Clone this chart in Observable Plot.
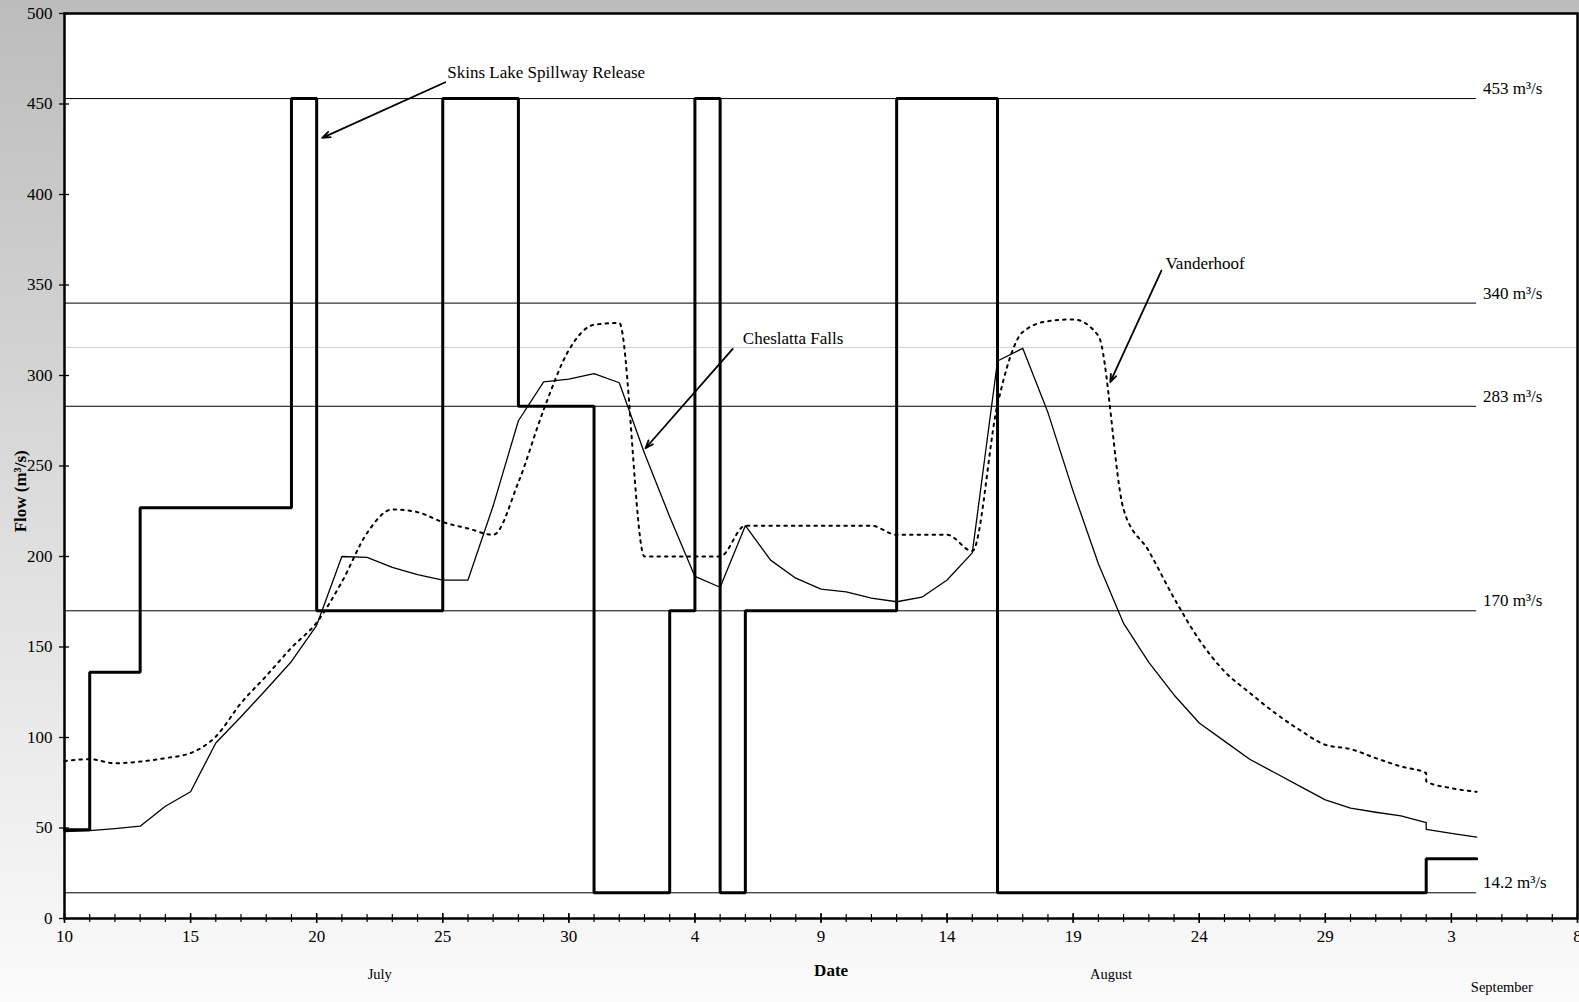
<!DOCTYPE html>
<html><head><meta charset="utf-8">
<script src="https://cdn.jsdelivr.net/npm/d3@7"></script>
<script src="https://cdn.jsdelivr.net/npm/@observablehq/plot@0.6"></script>
<style>html,body{margin:0;padding:0;overflow:hidden;background:#fff}</style>
</head><body><div id="chart"></div>
<script>
// Day index: 0 = July 10
const majorDays = [0,5,10,15,20,25,30,35,40,45,50,55,60];
const tickLabels = ["10","15","20","25","30","4","9","14","19","24","29","3","8"];
const yTicks = [0,50,100,150,200,250,300,350,400,450,500];

const monthNames = ["July","August","September"];
const monthDays = [12.5, 41.5, 57];
const monthRow = [0, 0, 1];

// Skins Lake Spillway Release (step changes)
const skinsDays = [0,1,3,9,10,15,18,21,24,25,26,27,33,37,54,56];
const skinsFlow = [49,136,227,453,170,453,283,14.2,170,453,14.2,170,453,14.2,33,33];

// Cheslatta Falls
const chesDays = [0,1,2,3,4,5,6,7,8,9,10,11,12,13,14,15,16,17,18,19,20,21,22,23,24,25,26,27,28,29,30,31,32,33,34,35,36,37,38,39,40,41,42,43,44,45,46,47,48,49,50,51,52,53,54,54,55,56];
const chesFlow = [48,48.5,49.7,51,62,70,97,111.5,126.5,142,162,200,199.5,194,190,187,187,228,275,296.5,298,301,296,257,222,189,183,217,198,188,182,180.5,177,175,177.5,187,202,308,315,279.5,236,196,163,141.5,123.5,108,98,88,80.5,73,65.5,61,58.7,56.7,53,49.3,47,45];

// Vanderhoof
const vandDays = chesDays;
const vandFlow = [87,88,85.8,86.7,88.6,91.4,100.5,119,134,149.6,163.5,186,213,226,224.5,219,215.5,212,241,281,314,328,329,200,200,200,200,217,217,217,217,217,217,212,212,212,203,284,324,330,331,322,226,203,177,154,136.5,124.7,113.6,104,96,93.6,88.6,84,80.3,75.7,72,70];

// Reference flows
const refFlows = [453,340,283,170,14.2];
const refLabels = ["453 m³/s","340 m³/s","283 m³/s","170 m³/s","14.2 m³/s"];
const refEndDay = 56;
const greyRefFlow = 315.5;

// Annotations
const annoLabels = ["Skins Lake Spillway Release","Cheslatta Falls","Vanderhoof"];
const annoTextDay = [15.18, 26.9, 43.66];
const annoTextFlow = [467.6, 320.5, 362];
const arrowFromDay = [15.1, 26.5, 43.5];
const arrowFromFlow = [462, 314.7, 358];
const arrowToDay = [10.22, 23.04, 41.47];
const arrowToFlow = [431.3, 259.8, 296.3];

// Axis titles
const xTitle = "Date", xTitleDay = 30.4;
const yTitle = "Flow (m³/s)", yTitleFlow = 236;

const allDays = d3.range(0, 61);
const skins = skinsDays.map((d,i)=>({day:d, flow:skinsFlow[i]}));
const ches = chesDays.map((d,i)=>({day:d, flow:chesFlow[i]}));
const vand = vandDays.map((d,i)=>({day:d, flow:vandFlow[i]}));
const refs = refFlows.map((f,i)=>({flow:f, label:refLabels[i]}));
const annos = annoLabels.map((l,i)=>({label:l, tx:annoTextDay[i], ty:annoTextFlow[i], x1:arrowFromDay[i], y1:arrowFromFlow[i], x2:arrowToDay[i], y2:arrowToFlow[i]}));
const months = monthNames.map((m,i)=>({name:m, day:monthDays[i], row:monthRow[i]}));

const W = 1579, H = 1002, mL = 64, mR = 2, mT = 13, mB = 84;
const pw = W - mL - mR, ph = H - mT - mB;
const font = "'Liberation Serif','Times New Roman',serif";

const chart = Plot.plot({
  width: W, height: H,
  marginLeft: mL, marginRight: mR, marginTop: mT, marginBottom: mB,
  x: {domain: [0, 60], axis: null},
  y: {domain: [0, 500], axis: null},
  style: {background: "linear-gradient(to bottom, #bcbcbc 0%, #dcdcdc 50%, #fbfbfb 100%)", fontFamily: font, fontSize: "17px", color: "#000", overflow: "visible"},
  marks: [
    Plot.frame({fill: "white", stroke: "none"}),
    Plot.ruleY([greyRefFlow], {x1: 0, x2: 60.1, stroke: "#cccccc", strokeWidth: 1, clip: false}),
    Plot.ruleY(refs, {y: "flow", x1: 0, x2: refEndDay, stroke: "#000", strokeWidth: 1}),
    Plot.text(refs, {y: "flow", x: refEndDay + 0.25, text: "label", textAnchor: "start", dy: -10, fontSize: 17, fill: "#000"}),
    Plot.line(vand, {x: "day", y: "flow", curve: "monotone-x", stroke: "#000", strokeWidth: 2, strokeDasharray: "2.5,5"}),
    Plot.line(ches, {x: "day", y: "flow", stroke: "#000", strokeWidth: 1.3}),
    Plot.line(skins, {x: "day", y: "flow", curve: "step-after", stroke: "#000", strokeWidth: 3, strokeLinejoin: "miter"}),
    Plot.arrow(annos, {x1: "x1", y1: "y1", x2: "x2", y2: "y2", stroke: "#000", strokeWidth: 1.8, headLength: 7, headAngle: 40}),
    Plot.text(annos, {x: "tx", y: "ty", text: "label", textAnchor: "start", fontSize: 17, fill: "#000"}),
    Plot.frame({stroke: "#000", strokeWidth: 2.5}),
    // y ticks crossing the axis
    Plot.tickY(yTicks, {y: d => d, insetLeft: -5, insetRight: pw - 5, stroke: "#000", strokeWidth: 1.3}),
    Plot.text(yTicks, {y: d => d, text: d => String(d), frameAnchor: "left", textAnchor: "end", dx: -12, fontSize: 17, fill: "#000"}),
    // x ticks (daily minor, 5-day major)
    Plot.tickX(allDays, {x: d => d, insetTop: ph - 4, insetBottom: -4, stroke: "#000", strokeWidth: 1.2}),
    Plot.tickX(majorDays, {x: d => d, insetTop: ph - 5, insetBottom: -5, stroke: "#000", strokeWidth: 1.5}),
    Plot.text(majorDays, {x: d => d, text: (d, i) => tickLabels[i], frameAnchor: "bottom", dy: 23, fontSize: 17, fill: "#000"}),
    // month labels
    Plot.text(months.filter(m => m.row === 0), {x: "day", text: "name", frameAnchor: "bottom", dy: 60, fontSize: 14.5, fill: "#000"}),
    Plot.text(months.filter(m => m.row === 1), {x: "day", text: "name", frameAnchor: "bottom", dy: 73, fontSize: 14.5, fill: "#000"}),
    // axis titles
    Plot.text([xTitle], {x: xTitleDay, text: d => d, frameAnchor: "bottom", dy: 57, fontSize: 17, fontWeight: "bold", fill: "#000"}),
    Plot.text([yTitle], {y: yTitleFlow, text: d => d, frameAnchor: "left", textAnchor: "middle", lineAnchor: "middle", dx: -44, rotate: -90, fontSize: 17, fontWeight: "bold", fill: "#000"})
  ]
});
document.getElementById("chart").appendChild(chart);
</script>
</body></html>
